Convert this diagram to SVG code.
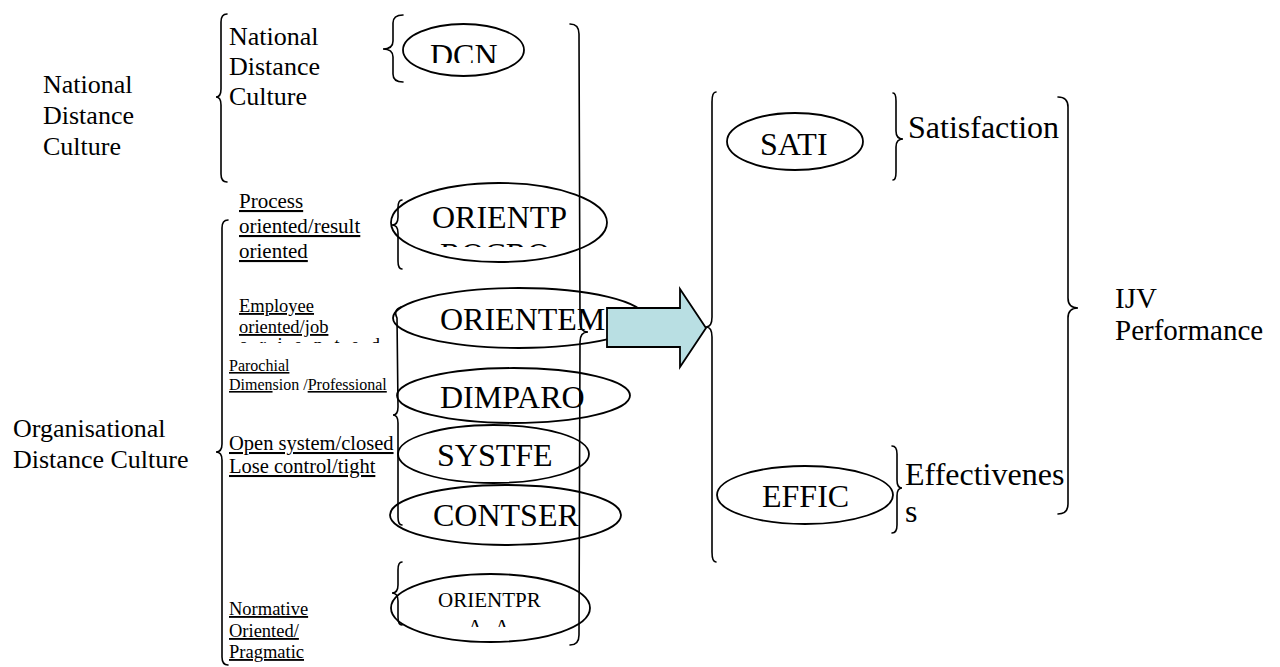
<svg xmlns="http://www.w3.org/2000/svg" width="1280" height="667" viewBox="0 0 1280 667" font-family="'Liberation Serif', 'Times New Roman', serif">
  <style>
    text { font-family: "Liberation Serif", "Times New Roman", serif; fill: #000; }
    .lbl { font-size: 26px; }
    .big { font-size: 32px; }
    .u { text-decoration: underline; }
    .ell { fill: none; stroke: #000; stroke-width: 1.8; }
    .br { fill: none; stroke: #000; stroke-width: 1.6; stroke-linecap: round; }
    .arrow { fill: #b9dfe3; stroke: #000; stroke-width: 1.8; stroke-linejoin: miter; }
  </style>
  <defs>
    <clipPath id="clipDcn"><rect x="380" y="0" width="160" height="63"/></clipPath>
    <clipPath id="clipProc"><rect x="380" y="180" width="240" height="67"/></clipPath>
    <clipPath id="clipEmp"><rect x="230" y="300" width="170" height="43"/></clipPath>
    <clipPath id="clipPrag"><rect x="380" y="560" width="220" height="67"/></clipPath>
    <clipPath id="clipOpen"><rect x="220" y="420" width="179" height="70"/></clipPath>
  </defs>
  <rect width="1280" height="667" fill="#fff"/>

  <!-- left-hand headings -->
  <g id="national-heading">
    <text class="lbl" x="43" y="93">National</text>
    <text class="lbl" x="43" y="124">Distance</text>
    <text class="lbl" x="43" y="155">Culture</text>
  </g>
  <g id="organisational-heading">
    <text class="lbl" x="13" y="437">Organisational</text>
    <text class="lbl" x="13" y="468">Distance Culture</text>
  </g>

  <!-- dimension labels -->
  <g id="national-label">
    <text class="lbl" x="229" y="45">National</text>
    <text class="lbl" x="229" y="75">Distance</text>
    <text class="lbl" x="229" y="105">Culture</text>
  </g>
  <g id="process-label" font-size="21">
    <text class="u" x="239" y="208">Process</text>
    <text class="u" x="239" y="233">oriented/result</text>
    <text class="u" x="239" y="258">oriented</text>
  </g>
  <g id="employee-label" font-size="18.5">
    <text class="u" x="239" y="312">Employee</text>
    <text class="u" x="239" y="333">oriented/job</text>
    <g clip-path="url(#clipEmp)">
      <text x="239" y="351" textLength="141" lengthAdjust="spacing">oriented</text>
    </g>
  </g>
  <g id="parochial-label" font-size="16">
    <text class="u" x="229" y="371">Parochial</text>
    <text x="229" y="390"><tspan class="u">Dimen</tspan>sion /<tspan class="u">Professional</tspan></text>
  </g>
  <g id="system-label" font-size="20.5">
    <g clip-path="url(#clipOpen)">
      <text class="u" x="229" y="450">Open system/closed</text>
    </g>
    <text class="u" x="229" y="473">Lose control/tight</text>
  </g>
  <g id="normative-label" font-size="18.5">
    <text class="u" x="229" y="615">Normative</text>
    <text class="u" x="229" y="637">Oriented/</text>
    <text class="u" x="229" y="658">Pragmatic</text>
  </g>

  <!-- variable ellipses -->
  <g id="DCN">
    <ellipse class="ell" cx="463.5" cy="50" rx="60.5" ry="26"/>
    <g clip-path="url(#clipDcn)"><text class="big" x="430" y="66">DCN</text></g>
  </g>
  <g id="ORIENTP">
    <ellipse class="ell" cx="499" cy="222.5" rx="108" ry="39.5"/>
    <g clip-path="url(#clipProc)">
      <text class="big" x="432" y="228">ORIENTP</text>
      <text class="big" x="440" y="265">ROCRO</text>
    </g>
  </g>
  <g id="ORIENTEM">
    <ellipse class="ell" cx="519" cy="318" rx="126" ry="30"/>
    <text class="big" x="440" y="330">ORIENTEM</text>
  </g>
  <g id="DIMPARO">
    <ellipse class="ell" cx="513.5" cy="395.5" rx="116.5" ry="27.5"/>
    <text class="big" x="440" y="408">DIMPARO</text>
  </g>
  <g id="SYSTFE">
    <ellipse class="ell" cx="493.5" cy="454" rx="95.5" ry="29"/>
    <text class="big" x="437" y="466">SYSTFE</text>
  </g>
  <g id="CONTSER">
    <ellipse class="ell" cx="505.5" cy="515" rx="115.5" ry="30"/>
    <text class="big" x="433" y="526">CONTSER</text>
  </g>
  <g id="ORIENTPR" font-size="21">
    <ellipse class="ell" cx="490.5" cy="608" rx="99.5" ry="34"/>
    <text x="438" y="607">ORIENTPR</text>
    <g clip-path="url(#clipPrag)">
      <text x="467.5 494.5" y="634">AA</text>
    </g>
  </g>
  <g id="SATI">
    <ellipse class="ell" cx="795" cy="141.5" rx="68" ry="28.5"/>
    <text class="big" x="760" y="155">SATI</text>
  </g>
  <g id="EFFIC">
    <ellipse class="ell" cx="805" cy="495" rx="88" ry="29"/>
    <text class="big" x="762" y="507">EFFIC</text>
  </g>

  <!-- outcome labels -->
  <g id="satisfaction-label">
    <text class="big" x="908" y="138">Satisfaction</text>
  </g>
  <g id="effectiveness-label">
    <text class="big" x="905" y="485">Effectivenes</text>
    <text class="big" x="905" y="522">s</text>
  </g>
  <g id="ijv-label" font-size="29">
    <text x="1115" y="308">IJV</text>
    <text x="1115" y="340">Performance</text>
  </g>

  <!-- braces and the block arrow -->
  <g id="connectors">
    <!-- opening braces -->
    <path class="br" d="M227,14 Q221,14 221,22 L221,89 Q221,97 216,97 Q221,97 221,105 L221,174 Q221,182 227,182"/>
    <path class="br" d="M403,15 Q393,15 393,23 L393,41 Q393,49 383,49 Q393,49 393,57 L393,74 Q393,82 403,82"/>
    <path class="br" d="M228,220 Q222,220 222,228 L222,444 Q222,452 216,452 Q222,452 222,460 L222,657 Q222,665 228,665"/>
    <path class="br" d="M402,200 Q398,200 398,208 L398,217 Q398,225 392,225 Q398,225 398,233 L398,261 Q398,269 402,269"/>
    <path class="br" d="M401,307 Q393,310 397,318 L398,407 Q398,415 393,415 Q398,415 398,423 L398,517 Q398,525 402,525"/>
    <path class="br" d="M402,562 Q398,562 398,570 L398,585 Q398,593 392,593 Q398,593 398,601 L398,617 Q398,625 402,625"/>
    <path class="br" d="M716,92 Q712,92 712,102 L712,317 Q712,327 706,327 Q712,327 712,337 L712,552 Q712,562 716,562"/>
    <!-- closing braces -->
    <path class="br" d="M570,24 Q579,24 579,34 L580,322 Q580,332 588,332 Q580,332 580,342 L579,635 Q579,645 570,645"/>
    <path class="br" d="M893,93 Q896,93 896,101 L896,131 Q896,139 903,139 Q896,139 896,147 L896,172 Q896,180 893,180"/>
    <path class="br" d="M892,446 Q897,446 897,454 L897,480 Q897,488 902,488 Q897,488 897,496 L897,525 Q897,533 892,533"/>
    <path class="br" d="M1058,97 Q1068,97 1068,107 L1068,298 Q1068,308 1078,308 Q1068,308 1068,318 L1068,504 Q1068,514 1058,514"/>
    <!-- block arrow -->
    <polygon class="arrow" points="607,308 680,308 680,289 706,328 680,367 680,347 607,347"/>
  </g>
</svg>
